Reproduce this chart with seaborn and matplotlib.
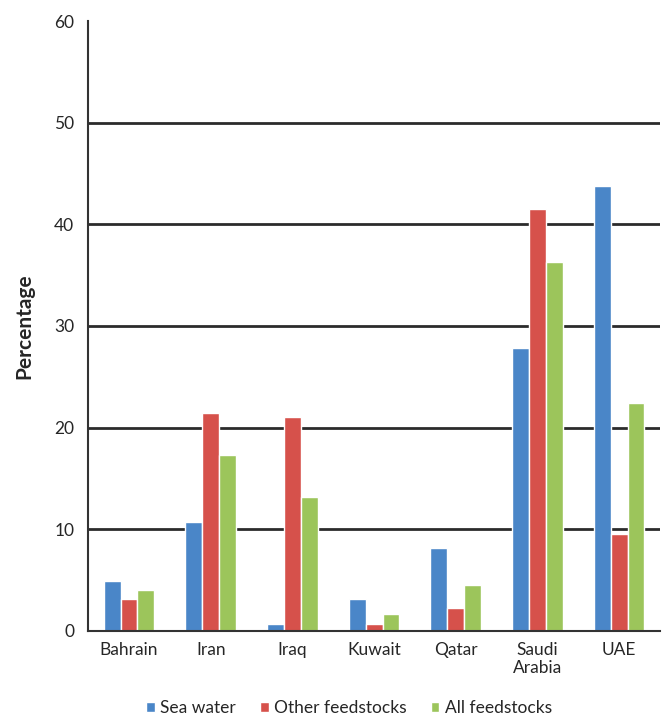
import matplotlib
matplotlib.use("Agg")
import matplotlib.pyplot as plt
import seaborn as sns
import pandas as pd
import numpy as np

countries = ["Bahrain", "Iran", "Iraq", "Kuwait", "Qatar", "Saudi\nArabia", "UAE"]
sea_water = [4.9, 10.7, 0.7, 3.1, 8.1, 27.8, 43.8]
other_feedstocks = [3.1, 21.4, 21.0, 0.7, 2.2, 41.5, 9.5]
all_feedstocks = [4.0, 17.3, 13.2, 1.6, 4.5, 36.3, 22.4]
series_names = ["Sea water", "Other feedstocks", "All feedstocks"]
yticks = [0, 10, 20, 30, 40, 50, 60]

df = pd.DataFrame({
    "Country": countries * 3,
    "Value": sea_water + other_feedstocks + all_feedstocks,
    "Series": [series_names[0]] * 7 + [series_names[1]] * 7 + [series_names[2]] * 7,
})

sns.set_theme(style="white")
plt.rcParams["font.family"] = ["Lato", "DejaVu Sans"]

fig = plt.figure(figsize=(6.68, 7.25), dpi=100)
ax = fig.add_axes([0.132, 0.130, 0.856, 0.841])

palette = ["#4a86c8", "#d6514b", "#9cc55b"]
sns.barplot(data=df, x="Country", y="Value", hue="Series", palette=palette,
            width=0.62, ax=ax, saturation=1, legend=True)

ax.set_ylim(0, 60)
ax.set_xlim(-0.5, 6.5)
ax.set_yticks(yticks)
ax.set_yticklabels([str(t) for t in yticks], fontsize=12.5)
for t in yticks[1:-1]:
    ax.axhline(t, color="#2b2b2b", lw=2.0, zorder=0)

ax.set_xlabel("")
ax.set_ylabel("Percentage", fontsize=15, fontweight="bold", labelpad=14)
ax.tick_params(axis="x", which="major", length=0, labelsize=12.5, pad=8)
ax.set_xticks(np.arange(-0.5, 7, 1), minor=True)
ax.tick_params(axis="x", which="minor", length=5, width=1.2, color="#333333", direction="out")
ax.tick_params(axis="y", length=4, width=1.2, color="#333333", direction="out", pad=6)

for s in ["top", "right"]:
    ax.spines[s].set_visible(False)
for s in ["left", "bottom"]:
    ax.spines[s].set_color("#333333")
    ax.spines[s].set_linewidth(1.5)

handles, labels = ax.get_legend_handles_labels()
ax.legend(handles, labels, loc="center", bbox_to_anchor=(0.456, -0.127),
          ncol=3, frameon=False, fontsize=12.5, handlelength=0.5, handleheight=0.5,
          handletextpad=0.3, columnspacing=1.4)

fig.savefig("out.png", dpi=100)
